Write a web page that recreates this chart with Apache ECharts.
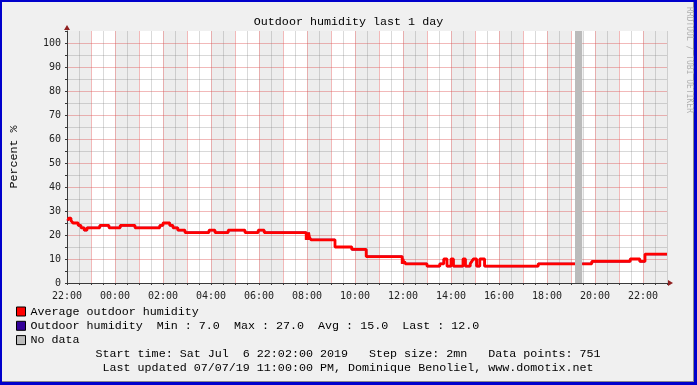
<!DOCTYPE html>
<html><head><meta charset="utf-8">
<script src="https://cdn.jsdelivr.net/npm/echarts@6/dist/echarts.min.js"></script>
<style>
html,body{margin:0;padding:0;background:#f0f0f0;}
#c{width:697px;height:385px;background:#f0f0f0;box-shadow:inset 2px 2px 0 #0000cc, inset -3px -3px 0 #0000cc, inset -4px -4px 0 #8a8a8a;}
</style></head><body><div id="c"></div>
<script>
// ---- data (clock times, chronological from Sat Jul 6 22:00) ----
const sampleTimes = ['22:02','22:04','22:10','22:15','22:28','22:35','22:43','22:50','23:22','23:45','00:13','00:50','01:52','02:00','02:17','02:25','02:37','02:55','03:55','04:10','04:43','05:25','05:58','06:13','07:58','08:00','08:02','08:04','08:06','08:10','09:10','09:52','10:28','11:58','12:00','12:02','12:04','12:06','13:00','13:32','13:42','13:50','14:00','14:06','14:30','14:36','14:48','14:52','14:56','15:04','15:12','15:24','17:38','19:10','19:10','19:28','19:52','21:28','21:52','22:05','23:00'];
const humidity = [26,27,26,25,24,23,22,23,24,23,24,23,24,25,24,23,22,21,22,21,22,21,22,21,18,21,18,21,19,18,15,14,11,8,10,8,9,8,7,8,10,7,10,7,10,7,8,9,10,7,10,7,8,8,null,8,9,10,9,12,12];
const noDataSpans = [['19:10','19:28']];
const shadedHours = ['22:00','23:00','00:00','01:00','02:00','03:00','04:00','05:00','06:00','07:00','08:00','09:00','10:00','11:00','12:00','13:00','14:00','15:00','16:00','17:00','18:00','19:00','20:00','21:00','22:00','23:00'];
const xTickLabels = ['22:00','00:00','02:00','04:00','06:00','08:00','10:00','12:00','14:00','16:00','18:00','20:00','22:00'];
const yTickLabels = [0,10,20,30,40,50,60,70,80,90,100];
const legendStats = {min:'7.0', max:'27.0', avg:'15.0', last:'12.0'};
const titleText = 'Outdoor humidity last 1 day';
const footer1 = 'Start time: Sat Jul  6 22:02:00 2019   Step size: 2mn   Data points: 751';
const footer2 = 'Last updated 07/07/19 11:00:00 PM, Dominique Benoliel, www.domotix.net';

// ---- helpers ----
const START_HOUR = 22;
function toHours(list){
  let prev = -1;
  return list.map(s => {
    const p = s.split(':').map(Number);
    let v = p[0] + p[1]/60 - START_HOUR;
    if (v < 0) v += 24;
    while (v < prev - 1e-9) v += 24;
    prev = v; return v;
  });
}
const tHours = toHours(sampleTimes);
const seriesData = tHours.map((t,i) => [t, humidity[i] == null ? '-' : humidity[i]]);
const bandH = toHours(shadedHours);
const bands = [];
for (let i = 0; i < bandH.length; i += 2) bands.push([{xAxis: bandH[i]}, {xAxis: bandH[i+1]}]);
const gaps = noDataSpans.map(s => { const h = toHours(s); return [{xAxis: h[0]}, {xAxis: h[1]}]; });

const MONO = "'Liberation Mono','Courier New',monospace";
const SMALL = "'DejaVu Sans Mono',monospace";
const RED = 'rgba(222,80,80,0.4)';
const GRAY = 'rgba(130,130,130,0.3)';
const AXIS = '#3a3a3a';

const xMax = 25, yMax = 105;
const xColors = []; for (let i = 0; i <= xMax*2; i++) xColors.push(i === xMax*2 ? GRAY : (i % 2 === 0 ? RED : GRAY));
const yColors = []; for (let i = 0; i <= yMax/5; i++) yColors.push(i === yMax/5 ? 'rgba(0,0,0,0)' : (i % 2 === 0 ? RED : GRAY));

const chart = echarts.init(document.getElementById('c'));
chart.setOption({
  animation: false,
  backgroundColor: 'transparent',
  title: {text: titleText, left: 'center', top: 10, textStyle: {fontFamily: MONO, fontSize: 11.7, fontWeight: 'normal', color: '#000', lineHeight: 14}},
  grid: {left: 67, top: 31, right: 30, bottom: 102, show: true, backgroundColor: '#ffffff', borderWidth: 0},
  legend: {
    orient: 'vertical', left: 16, top: 304.5, padding: 0, itemWidth: 9, itemHeight: 9, itemGap: 0.3, icon: 'rect', selectedMode: false,
    data: ['Average outdoor humidity', 'Outdoor humidity', 'No data'],
    itemStyle: {borderColor: '#000', borderWidth: 1},
    textStyle: {fontFamily: MONO, fontSize: 11.7, color: '#000', lineHeight: 14},
    formatter: n => n === 'Outdoor humidity' ? `Outdoor humidity  Min : ${legendStats.min}  Max : ${legendStats.max}  Avg : ${legendStats.avg}  Last : ${legendStats.last}` : n
  },
  xAxis: {
    type: 'value', min: 0, max: xMax, interval: 0.5, z: 3,
    axisLine: {show: true, onZero: false, lineStyle: {color: AXIS, width: 1}},
    axisTick: {show: true, length: 2, lineStyle: {color: AXIS}},
    axisLabel: {fontFamily: SMALL, fontSize: 10, color: '#222', margin: 8, showMinLabel: true, showMaxLabel: true,
      formatter: v => { const k = Math.round(v*2); return (k % 4 === 0) ? (xTickLabels[k/4] || '') : ''; }},
    splitLine: {show: true, lineStyle: {color: xColors, width: 1}}
  },
  yAxis: {
    type: 'value', min: 0, max: yMax, interval: 5, z: 3,
    name: 'Percent %', nameLocation: 'middle', nameGap: 47, nameRotate: 90,
    nameTextStyle: {fontFamily: MONO, fontSize: 11.7, color: '#000'},
    axisLine: {show: true, lineStyle: {color: AXIS, width: 1}},
    axisTick: {show: true, length: 2, lineStyle: {color: AXIS}},
    axisLabel: {fontFamily: SMALL, fontSize: 10, color: '#222', margin: 6,
      formatter: v => yTickLabels.indexOf(v) >= 0 ? String(v) : ''},
    splitLine: {show: true, lineStyle: {color: yColors, width: 1}}
  },
  series: [
    {type: 'line', name: 'bands', data: [], z: 1, silent: true,
     markArea: {z: 1, silent: true, itemStyle: {color: '#ededed'}, data: bands}},
    {type: 'line', name: 'No data', data: [], z: 4, silent: true, color: '#bbbbbb',
     itemStyle: {color: '#bbbbbb'}, lineStyle: {color: '#bbbbbb'},
     markArea: {z: 4, silent: true, itemStyle: {color: '#bbbbbb'}, data: gaps}},
    {type: 'line', name: 'Outdoor humidity', data: seriesData, step: 'end', showSymbol: false, symbol: 'none',
     connectNulls: false, z: 5, color: '#330099', itemStyle: {color: '#330099'}, lineStyle: {color: '#330099', width: 2}},
    {type: 'line', name: 'Average outdoor humidity', data: seriesData, step: 'end', showSymbol: false, symbol: 'none',
     connectNulls: false, z: 6, color: '#ff0000', itemStyle: {color: '#ff0000'}, lineStyle: {color: '#ff0000', width: 2.8}}
  ]
});

const pTop = chart.convertToPixel({gridIndex: 0}, [0, yMax]);
const pRight = chart.convertToPixel({gridIndex: 0}, [xMax, 0]);
chart.setOption({
  graphic: [
    {type: 'polygon', shape: {points: [[pTop[0]-3, pTop[1]-1], [pTop[0]+3, pTop[1]-1], [pTop[0], pTop[1]-6]]}, style: {fill: '#902020'}, z: 10},
    {type: 'polygon', shape: {points: [[pRight[0]+1, pRight[1]-3], [pRight[0]+1, pRight[1]+3], [pRight[0]+6, pRight[1]]]}, style: {fill: '#902020'}, z: 10},
    {type: 'text', x: 348, y: 354, style: {text: footer1, font: "11.7px 'Liberation Mono'", fill: '#000', align: 'center', verticalAlign: 'middle'}},
    {type: 'text', x: 348, y: 368, style: {text: footer2, font: "11.7px 'Liberation Mono'", fill: '#000', align: 'center', verticalAlign: 'middle'}},
    {type: 'text', x: 689, y: 60, rotation: -Math.PI/2, style: {text: 'RRDTOOL / TOBI OETIKER', font: "8px 'DejaVu Sans Mono'", fill: '#b0b0b0', align: 'center', verticalAlign: 'middle'}}
  ]
});
</script></body></html>
